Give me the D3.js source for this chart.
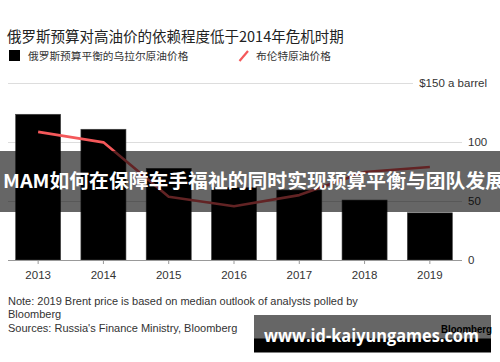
<!DOCTYPE html>
<html>
<head>
<meta charset="utf-8">
<script src="https://cdn.jsdelivr.net/npm/d3@7"></script>
<style>
  body { margin:0; background:#fff; }
  svg { display:block; }
</style>
</head>
<body>
<svg width="500" height="362"></svg>
<script>
// data
var years = ["2013","2014","2015","2016","2017","2018","2019"];
var uralsBreakeven = [123.5, 110.8, 77.7, 61.3, 59.3, 50.8, 40];
var brent = [108.6, 99.7, 53.6, 45.5, 55, 74.6, 78.8];
var yTicks = [0, 50, 100, 150];
var yTickLabels = ["0", "50", "100", "$150 a barrel"];

var title = "俄罗斯预算对高油价的依赖程度低于2014年危机时期";
var legendBar = "俄罗斯预算平衡的乌拉尔原油价格";
var legendLine = "布伦特原油价格";
var notes = ["Note: 2019 Brent price is based on median outlook of analysts polled by",
             "Bloomberg",
             "Sources: Russia's Finance Ministry, Bloomberg"];
var bannerText = "MAM如何在保障车手福祉的同时实现预算平衡与团队发展";
var watermark = "www.id-kaiyungames.com";

var svg = d3.select("svg");
var cjk = "'Noto Sans CJK SC', 'Noto Sans', sans-serif";
var latin = "'Liberation Sans', Arial, sans-serif";

var x = d3.scaleBand().domain(years).range([5.5, 462.5]).paddingInner(0.31).paddingOuter(0.155);
var y = d3.scaleLinear().domain([0, 150]).range([260, 83]);

// title + legend
svg.append("text").attr("x", 7).attr("y", 41.5)
  .attr("font-family", cjk).attr("font-size", 14.5).attr("fill", "#222").text(title);

svg.append("rect").attr("x", 9).attr("y", 50).attr("width", 11).attr("height", 11).attr("fill", "#000");
svg.append("text").attr("x", 28).attr("y", 59.5)
  .attr("font-family", cjk).attr("font-size", 10.7).attr("fill", "#333").text(legendBar);
svg.append("line").attr("x1", 239.5).attr("y1", 61).attr("x2", 248).attr("y2", 51)
  .attr("stroke", "#f4585a").attr("stroke-width", 2.2);
svg.append("text").attr("x", 256).attr("y", 59.5)
  .attr("font-family", cjk).attr("font-size", 10.7).attr("fill", "#333").text(legendLine);

// gridlines
var grid = svg.append("g");
grid.selectAll("line").data(yTicks.filter(d => d > 0)).enter().append("line")
  .attr("x1", 8).attr("x2", (d, i) => d == 150 ? 413 : 462)
  .attr("y1", d => Math.round(y(d)) + 0.5).attr("y2", d => Math.round(y(d)) + 0.5)
  .attr("stroke", "#ddd").attr("stroke-width", 1);

grid.selectAll("text").data(yTicks).enter().append("text")
  .attr("x", (d, i) => d == 150 ? 487 : 468)
  .attr("text-anchor", d => d == 150 ? "end" : "start")
  .attr("y", d => y(d)).attr("dy", "0.35em")
  .attr("font-family", latin).attr("font-size", 11.5).attr("fill", "#333")
  .text((d, i) => yTickLabels[i]);

// bars
svg.append("g").selectAll("rect").data(uralsBreakeven).enter().append("rect")
  .attr("x", (d, i) => x(years[i])).attr("width", x.bandwidth())
  .attr("y", d => y(d)).attr("height", d => y(0) - y(d))
  .attr("fill", "#000").attr("stroke", "#444").attr("stroke-width", 0.6);

// x axis
var xAxis = svg.append("g").attr("transform", "translate(0,260)")
  .call(d3.axisBottom(x).tickSize(4).tickSizeOuter(0));
xAxis.select(".domain").attr("d", "M8,0.5H462").attr("stroke", "#999");
xAxis.selectAll(".tick line").attr("stroke", "#999");
xAxis.selectAll(".tick text").attr("y", 15).attr("dy", "0.35em")
  .attr("font-family", latin).attr("font-size", 11.5).attr("fill", "#333");

// brent line
var line = d3.line().x((d, i) => x(years[i]) + x.bandwidth() / 2).y(d => y(d));
svg.append("path").datum(brent).attr("d", line)
  .attr("fill", "none").attr("stroke", "#f4585a").attr("stroke-width", 2.6)
  .attr("stroke-linejoin", "round");

// notes
svg.append("g").selectAll("text").data(notes).enter().append("text")
  .attr("x", 8).attr("y", (d, i) => 304.7 + i * 13.7)
  .attr("font-family", latin).attr("font-size", 11).attr("fill", "#333")
  .text(d => d);

// overlay banner
svg.append("rect").attr("x", 0).attr("y", 151).attr("width", 500).attr("height", 61)
  .attr("fill", "#000").attr("opacity", 0.6);
svg.append("text").attr("x", 3).attr("y", 188)
  .attr("font-family", cjk).attr("font-weight", "bold").attr("font-size", 19)
  .attr("textLength", 502).attr("lengthAdjust", "spacingAndGlyphs")
  .attr("fill", "#fff").text(bannerText);

// watermark box
svg.append("rect").attr("x", 254).attr("y", 315).attr("width", 237).attr("height", 24).attr("fill", "#666");
svg.append("rect").attr("x", 254).attr("y", 338.5).attr("width", 237).attr("height", 14).attr("fill", "#000");
svg.append("text").attr("x", 441).attr("y", 332.5)
  .attr("font-family", latin).attr("font-weight", "bold").attr("font-size", 10.5)
  .attr("textLength", 51).attr("lengthAdjust", "spacingAndGlyphs")
  .attr("fill", "#000").text("Bloomberg");
svg.append("text").attr("x", 264).attr("y", 341.5)
  .attr("font-family", "'Open Sans', 'DejaVu Sans', sans-serif").attr("font-weight", "bold").attr("font-size", 18)
  .attr("textLength", 215).attr("lengthAdjust", "spacingAndGlyphs")
  .attr("fill", "#fff").text(watermark);
</script>
</body>
</html>
